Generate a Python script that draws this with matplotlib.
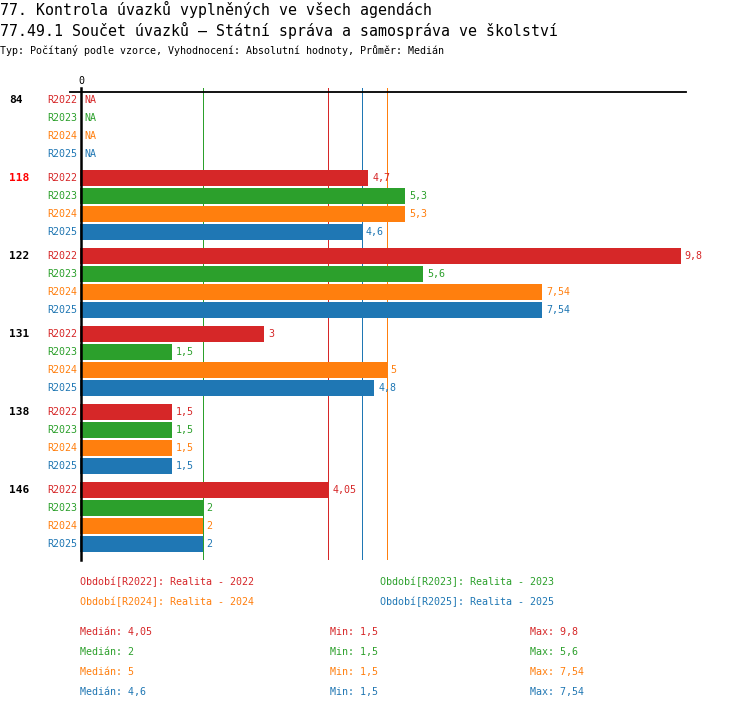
import matplotlib
matplotlib.use("Agg")
import matplotlib.pyplot as plt

# data
groups = ["84", "118", "122", "131", "138", "146"]
periods = ["R2022", "R2023", "R2024", "R2025"]
colors = ["#d62728", "#2ca02c", "#ff7f0e", "#1f77b4"]
values = [
    [None, None, None, None],
    [4.7, 5.3, 5.3, 4.6],
    [9.8, 5.6, 7.54, 7.54],
    [3, 1.5, 5, 4.8],
    [1.5, 1.5, 1.5, 1.5],
    [4.05, 2, 2, 2],
]
highlight = "118"
medians = [4.05, 2, 5, 4.6]
mins = [1.5, 1.5, 1.5, 1.5]
maxs = [9.8, 5.6, 7.54, 7.54]
legend_labels = ["Období[R2022]: Realita - 2022", "Období[R2023]: Realita - 2023",
                 "Období[R2024]: Realita - 2024", "Období[R2025]: Realita - 2025"]

title = "77. Kontrola úvazků vyplněných ve všech agendách"
subtitle = "77.49.1 Součet úvazků – Státní správa a samospráva ve školství"
info = "Typ: Počítaný podle vzorce, Vyhodnocení: Absolutní hodnoty, Průměr: Medián"

W, H = 750, 710
MONO = "DejaVu Sans Mono"
SMALL = 7.2


def fmt(v):
    return ("%g" % v).replace(".", ",")


def fy(py):
    # pixel from top -> figure fraction
    return 1 - py / H


fig = plt.figure(figsize=(W / 100, H / 100), dpi=100)
fig.patch.set_facecolor("white")

x0, x1 = 80, 686
y_top, y_bot = 88, 560
px_per_unit = 61.3
ax = fig.add_axes([x0 / W, fy(y_bot), (x1 - x0) / W, (y_bot - y_top) / H])
ax.set_xlim(0, (x1 - x0) / px_per_unit)
ax.set_ylim(y_bot, y_top)
ax.axis("off")

row_h, group_gap, first_row = 18, 6, 100


def row_y(g, r):
    return first_row + g * (len(periods) * row_h + group_gap) + r * row_h


def px_to_x(px):
    return (px - x0) / px_per_unit


# median lines (1 px wide)
for m, c in zip(medians, colors):
    ax.plot([m, m], [y_top, y_bot], color=c, lw=0.72, zorder=1, antialiased=False)

for g, name in enumerate(groups):
    gcol = "#ff0000" if name == highlight else "black"
    ax.text(px_to_x(9), row_y(g, 0), name, ha="left", va="center",
            family=MONO, fontsize=8, fontweight="bold", color=gcol, clip_on=False)
    for r, (p, c) in enumerate(zip(periods, colors)):
        y = row_y(g, r)
        ax.text(px_to_x(77), y, p, ha="right", va="center", family=MONO,
                fontsize=SMALL, color=c, clip_on=False)
        v = values[g][r]
        if v is None:
            ax.text(px_to_x(84), y, "NA", ha="left", va="center", family=MONO,
                    fontsize=SMALL, color=c, clip_on=False)
            continue
        ax.barh(y, v, height=16, color=c, zorder=2)
        ax.text(v + 4 / px_per_unit, y, fmt(v), ha="left", va="center",
                family=MONO, fontsize=SMALL, color=c, clip_on=False)

# axis lines
zx = px_to_x(81)
ax.plot([zx, zx], [y_top, y_bot], color="black", lw=1.8, zorder=3, clip_on=False)
ax.plot([px_to_x(70), px_to_x(x1)], [92, 92], color="black", lw=1.3, zorder=3, clip_on=False)
ax.text(zx, 81, "0", ha="center", va="center", family=MONO, fontsize=SMALL, clip_on=False)

# titles
fig.text(0, fy(9), title, ha="left", va="center", family=MONO, fontsize=10.75)
fig.text(0, fy(30), subtitle, ha="left", va="center", family=MONO, fontsize=10.75)
fig.text(0, fy(50), info, ha="left", va="center", family=MONO, fontsize=SMALL)

# legend
for i, (lab, c) in enumerate(zip(legend_labels, colors)):
    lx = 80 if i % 2 == 0 else 380
    ly = 582 + (i // 2) * 20
    fig.text(lx / W, fy(ly), lab, ha="left", va="center", family=MONO,
             fontsize=SMALL, color=c)

# statistics
for i, c in enumerate(colors):
    ly = 632 + i * 20
    fig.text(80 / W, fy(ly), "Medián: " + fmt(medians[i]), ha="left", va="center",
             family=MONO, fontsize=SMALL, color=c)
    fig.text(330 / W, fy(ly), "Min: " + fmt(mins[i]), ha="left", va="center",
             family=MONO, fontsize=SMALL, color=c)
    fig.text(530 / W, fy(ly), "Max: " + fmt(maxs[i]), ha="left", va="center",
             family=MONO, fontsize=SMALL, color=c)

fig.savefig("out.png", dpi=100)
